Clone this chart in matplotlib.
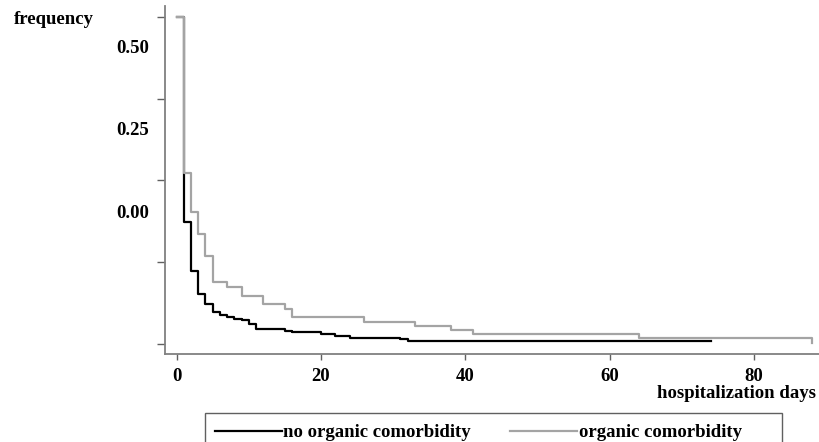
import matplotlib
matplotlib.use("Agg")
import matplotlib.pyplot as plt
from matplotlib.lines import Line2D
from matplotlib.patches import Rectangle

plt.rcParams['font.family'] = ['Liberation Serif', 'DejaVu Serif']
plt.rcParams['font.weight'] = 'bold'

# ---- data (step curves, value starts at given day) ----
no_org_days = [0, 1, 2, 3, 4, 5, 6, 7, 8, 9, 10, 11, 15, 16, 20, 22, 24, 31, 32, 74]
no_org_freq = [0.60, 0.224, 0.134, 0.092, 0.073, 0.059, 0.053, 0.050, 0.046, 0.0435,
               0.037, 0.027, 0.0245, 0.0214, 0.018, 0.0147, 0.0116, 0.0086, 0.005, 0.005]

org_days = [0, 1, 2, 3, 4, 5, 7, 9, 12, 15, 16, 26, 33, 38, 41, 64, 88]
org_freq = [0.60, 0.313, 0.242, 0.202, 0.161, 0.113, 0.105, 0.089, 0.073, 0.065,
            0.050, 0.041, 0.033, 0.026, 0.018, 0.0104, 0.002]

series_labels = ["no organic comorbidity", "organic comorbidity"]
xticks = [0, 20, 40, 60, 80]
ytick_marks = [0.0, 0.15, 0.30, 0.45, 0.60]
ytick_label_pos = [0.5455, 0.3945, 0.2428]
ytick_labels = ["0.50", "0.25", "0.00"]

FS = 13.5
W, H = 819, 442
fig = plt.figure(figsize=(W / 100, H / 100), dpi=100)
ax = fig.add_axes([165 / W, 1 - 354 / H, (W - 165) / W, (354 - 6) / H])

ax.step(no_org_days, no_org_freq, where='post', color='black', lw=1.6, zorder=2)
ax.step(org_days, org_freq, where='post', color='#a4a4a4', lw=1.6, zorder=3)

ax.set_xlim(-1.6, 89.0)
ax.set_ylim(-0.0183, 0.620)

for s in ['top', 'right']:
    ax.spines[s].set_visible(False)
for s in ['left', 'bottom']:
    ax.spines[s].set_color('#808080')
    ax.spines[s].set_linewidth(1.3)

ax.set_xticks(xticks)
ax.set_xticklabels([str(v) for v in xticks], fontsize=FS, fontweight='bold')
ax.tick_params(axis='x', which='major', length=4.3, width=1.0, color='#606060', pad=5.5)

ax.set_yticks(ytick_marks)
ax.set_yticklabels([''] * len(ytick_marks))
ax.tick_params(axis='y', which='major', length=5.8, width=1.0, color='#606060')
ax.set_yticks(ytick_label_pos, minor=True)
ax.set_yticklabels(ytick_labels, minor=True, fontsize=FS, fontweight='bold')
ax.tick_params(axis='y', which='minor', length=0, pad=11.5)

fig.text(14 / W, 1 - 20 / H, "frequency", fontsize=FS, fontweight='bold',
         ha='left', va='center')
fig.text(816 / W, 1 - 393 / H, "hospitalization days", fontsize=FS, fontweight='bold',
         ha='right', va='center')

# legend frame (extends below the figure edge)
fig.patches.append(Rectangle((205 / W, 1 - 460 / H), (782 - 205) / W, (460 - 413) / H,
                             transform=fig.transFigure, fill=True, facecolor='white',
                             edgecolor='#606060', lw=1.0, zorder=1))

handles = [Line2D([], [], color='black', lw=1.6),
           Line2D([], [], color='#a4a4a4', lw=1.6)]
leg = fig.legend(handles, series_labels, ncol=2, frameon=False,
                 bbox_to_anchor=(215 / W, 1 - 424 / H),
                 loc='upper left', prop={'size': FS, 'weight': 'bold'},
                 handlelength=3.55, handletextpad=0.1, borderpad=0,
                 borderaxespad=0, columnspacing=2.1)
leg.set_zorder(2)

fig.savefig("out.png", dpi=100)
